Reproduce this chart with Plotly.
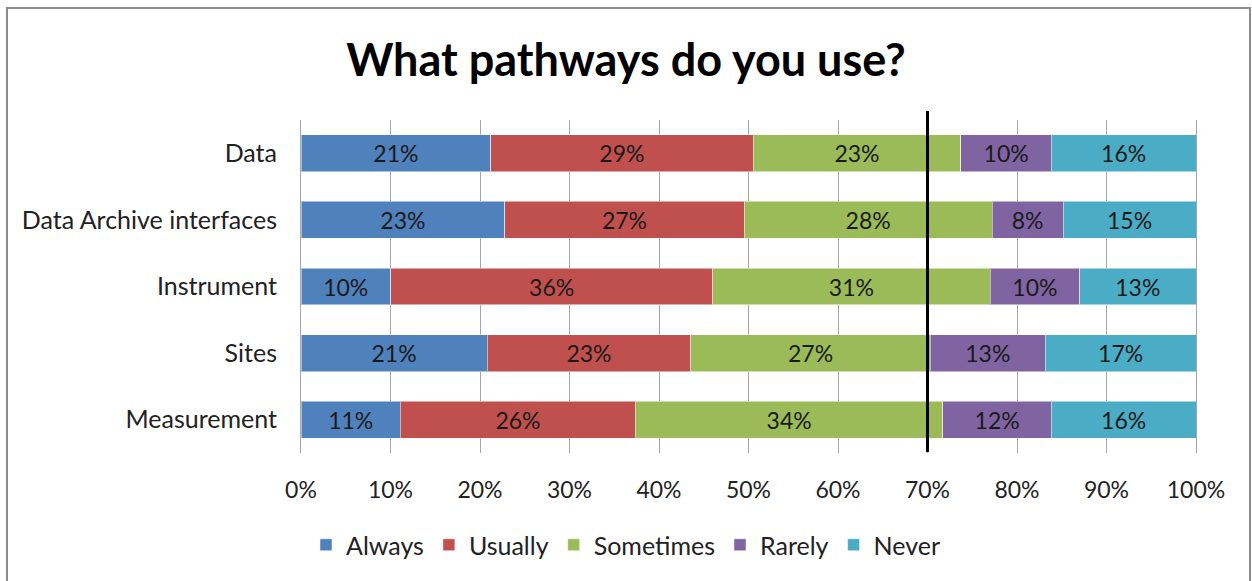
import plotly.graph_objects as go

# Survey responses (percent of respondents) per pathway
categories = ["Data", "Data Archive interfaces", "Instrument", "Sites", "Measurement"]
always = [21, 23, 10, 21, 11]
usually = [29, 27, 36, 23, 26]
sometimes = [23, 28, 31, 27, 34]
rarely = [10, 8, 10, 13, 12]
never = [16, 15, 13, 17, 16]

series = [
    ("Always", always, "#4F81BD"),
    ("Usually", usually, "#C0504D"),
    ("Sometimes", sometimes, "#9BBB59"),
    ("Rarely", rarely, "#8064A2"),
    ("Never", never, "#4BACC6"),
]

FONT = "Lato"
W, H = 1252, 581
L, R, T, B = 301, 56, 120, 128
PW, PH = W - L - R, H - T - B


def px_x(p):
    return (p - L) / PW


def px_y(p):
    return (H - B - p) / PH


fig = go.Figure()
for name, vals, color in series:
    fig.add_trace(go.Bar(
        y=categories, x=vals, name=name, orientation="h",
        marker=dict(color=color, line=dict(color="rgba(255,255,255,0.5)", width=1)),
        text=[f"{v}%" for v in vals], textposition="inside",
        insidetextanchor="middle", textangle=0,
        textfont=dict(family=FONT, size=23, color="#1a1a1a"),
        hoverinfo="name+x",
    ))

# 70% reference line
fig.add_shape(type="line", xref="x", yref="paper", x0=70, x1=70,
              y0=px_y(452), y1=px_y(111), line=dict(color="black", width=3))

# chart frame
fig.add_shape(type="rect", xref="paper", yref="paper",
              x0=px_x(7), x1=px_x(1250), y0=px_y(590), y1=px_y(8),
              line=dict(color="#8c8c8c", width=2), layer="below")

fig.update_layout(
    width=W, height=H,
    margin=dict(l=L, r=R, t=T, b=B),
    barmode="stack", barnorm="percent", bargap=0.445,
    paper_bgcolor="white", plot_bgcolor="white",
    font=dict(family=FONT, size=24, color="#222222"),
    title=dict(text="<b>What pathways do you use?</b>", x=0.5, xanchor="center",
               y=1 - 60 / H, yanchor="middle",
               font=dict(family=FONT, size=45, color="black")),
    xaxis=dict(range=[0, 100], dtick=10, ticksuffix="%", showgrid=True,
               gridcolor="#a6a6a6", gridwidth=1, zeroline=False,
               ticks="outside", ticklen=16, tickcolor="rgba(0,0,0,0)",
               tickfont=dict(family=FONT, size=23, color="#222222")),
    yaxis=dict(autorange="reversed", showline=True, mirror=True,
               linecolor="#a6a6a6", linewidth=1,
               ticks="outside", ticklen=18, tickcolor="rgba(0,0,0,0)",
               tickfont=dict(family=FONT, size=25, color="#222222")),
    legend=dict(orientation="h", traceorder="normal", x=0.5,
                xanchor="center", xref="container", y=1 - 545 / H, yref="container",
                yanchor="middle", font=dict(family=FONT, size=25, color="#222222"),
                itemwidth=30),
    showlegend=True,
)

fig.write_html("out.html")
